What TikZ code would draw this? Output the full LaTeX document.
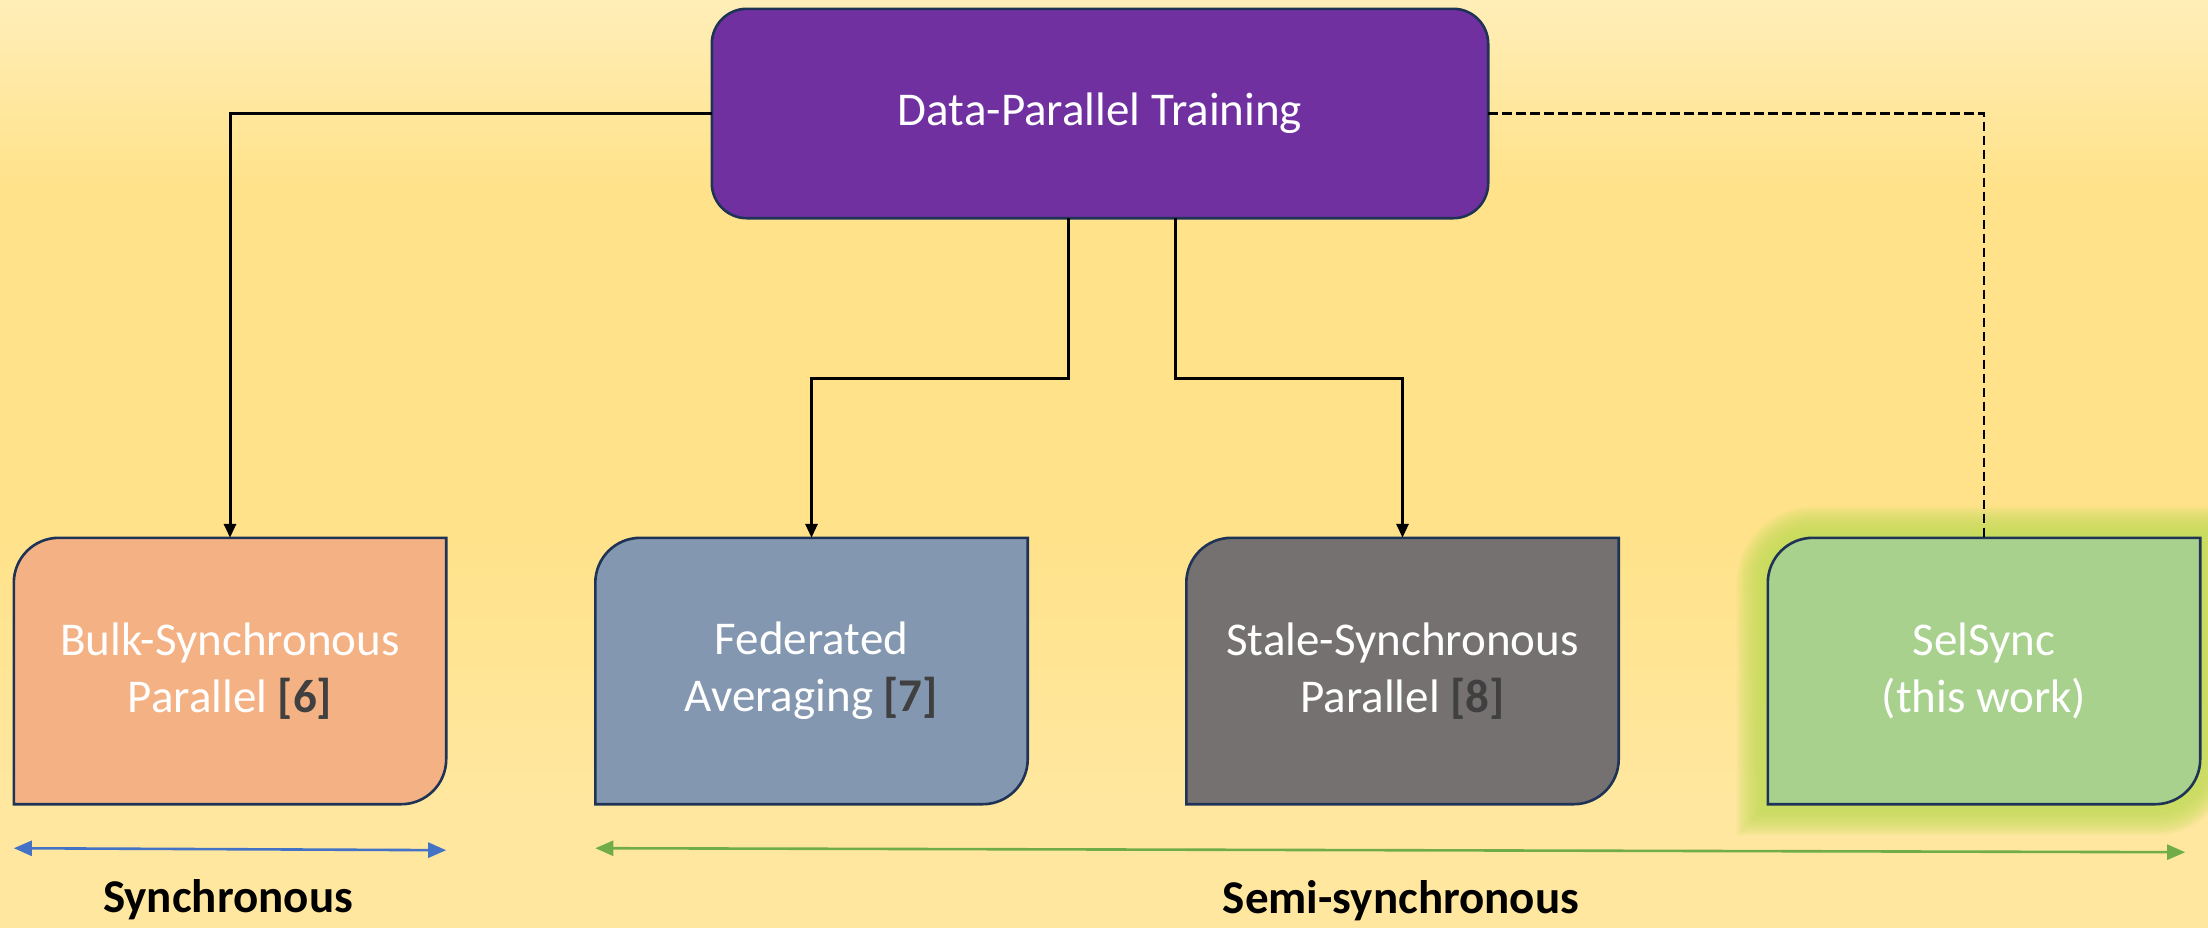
\documentclass[tikz,border=0pt]{standalone}
\usepackage{fontspec}
\setmainfont{Carlito}
\usetikzlibrary{arrows.meta,calc}
\pgfdeclarelayer{bg}
\pgfdeclarelayer{shapes}
\pgfsetlayers{bg,shapes,main}

\definecolor{bgtop}{HTML}{FFEEB8}
\definecolor{bgmid}{HTML}{FFE28A}
\definecolor{bgbot}{HTML}{FFE79F}
\definecolor{navy}{HTML}{1F3357}
\definecolor{purp}{HTML}{7030A0}
\definecolor{bspfill}{HTML}{F4B183}
\definecolor{fedfill}{HTML}{8497B0}
\definecolor{sspfill}{HTML}{767171}
\definecolor{selfill}{HTML}{A9D18E}
\definecolor{glow}{HTML}{BFDC55}
\definecolor{refgray}{HTML}{404040}
\definecolor{syncblue}{HTML}{4472C4}
\definecolor{semigreen}{HTML}{70AD47}

% page background: light at the top, deeper yellow in the middle, lighter again at the foot
\pgfdeclareverticalshading{pagefade}{100bp}{%
  color(0bp)=(bgbot); color(25bp)=(bgbot); color(32bp)=(bgbot);
  color(46bp)=(bgmid); color(65bp)=(bgmid); color(75bp)=(bgtop); color(100bp)=(bgtop)}

\tikzset{
  boxtext/.style={font=\fontsize{47}{57}\selectfont, text=white, align=center, inner sep=0pt},
  sidenode/.style={boxtext, minimum width=432pt, minimum height=266pt},
  topnode/.style={boxtext, minimum width=776pt, minimum height=209pt},
  boxline/.style={draw=navy, line width=2.6pt},
  conn/.style={draw=black, line width=3pt, -{Triangle[length=14pt,width=12pt]}},
  dashconn/.style={draw=black, line width=2.2pt, dash pattern=on 9.5pt off 4.5pt},
  spanarrow/.style={line width=2.6pt, {Triangle[length=18pt,width=15pt]}-{Triangle[length=18pt,width=15pt]}},
  spanlabel/.style={font=\fontsize{47}{57}\selectfont\bfseries, text=black, inner sep=0pt, anchor=base},
}

% Box with rounded top-left and bottom-right corners, sharp elsewhere
\newcommand\sidebox[2]{%
  \path[#2] ($(#1.north west)+(0,45)$)
    .. controls ($(#1.north west)+(0,20.15)$) and ($(#1.north west)+(20.15,0)$) .. ($(#1.north west)+(45,0)$)
    -- (#1.north east)
    -- ($(#1.south east)+(0,-45)$)
    .. controls ($(#1.south east)+(0,-20.15)$) and ($(#1.south east)+(-20.15,0)$) .. ($(#1.south east)+(-45,0)$)
    -- (#1.south west) -- cycle;}

\newcommand\refmark[1]{{\bfseries\color{refgray}[#1]}}

\begin{document}
\begin{tikzpicture}[x=1pt,y=-1pt]
  \useasboundingbox (0,0) rectangle (2208,927);

  \begin{pgfonlayer}{bg}
    \shade[shading=pagefade] (0,0) rectangle (2208,927);
  \end{pgfonlayer}

  % nodes
  \node[topnode] (dpt) at (1100,113.5) {Data-Parallel Training};
  \node[sidenode] (bsp) at (230,671) {Bulk-Synchronous\\Parallel \refmark{6}};
  \node[sidenode] (fed) at (811.5,671) {Federated\\Averaging \refmark{7}};
  \node[sidenode] (ssp) at (1402.5,671) {Stale-Synchronous\\Parallel \refmark{8}};
  \node[sidenode] (sel) at (1984,671) {SelSync\\(this work)};

  % shapes behind the texts
  \begin{pgfonlayer}{shapes}
    \draw[boxline, fill=purp, rounded corners=35pt] (dpt.north west) rectangle (dpt.south east);
    \foreach \w in {62,57,52,47,42,37,32,27,22,17,12} {
      \sidebox{sel}{draw=glow, line width=\w pt, draw opacity=0.13}
    }
    \sidebox{bsp}{boxline, fill=bspfill}
    \sidebox{fed}{boxline, fill=fedfill}
    \sidebox{ssp}{boxline, fill=sspfill}
    \sidebox{sel}{boxline, fill=selfill}
  \end{pgfonlayer}

  % connectors
  \draw[conn] (dpt.west) -| (bsp.north);
  \draw[conn] ([xshift=-32pt]dpt.south) -- ++(0,160) -| (fed.north);
  \draw[conn] ([xshift=75pt]dpt.south) -- ++(0,160) -| (ssp.north);
  \draw[dashconn] (dpt.east) -| (sel.north);

  % synchrony ranges
  \coordinate (s1) at ([yshift=-44pt]bsp.south west);
  \coordinate (s2) at ([yshift=-46pt]bsp.south east);
  \coordinate (t1) at ([yshift=-44pt]fed.south west);
  \coordinate (t2) at ([xshift=-15pt,yshift=-48pt]sel.south east);
  \draw[spanarrow, syncblue] (s1) -- (s2);
  \draw[spanarrow, semigreen] (t1) -- (t2);

  \node[spanlabel] (synclab) at (228,912) {Synchronous};
  \node[spanlabel] (semilab) at (1401,913) {Semi-synchronous};
\end{tikzpicture}
\end{document}
